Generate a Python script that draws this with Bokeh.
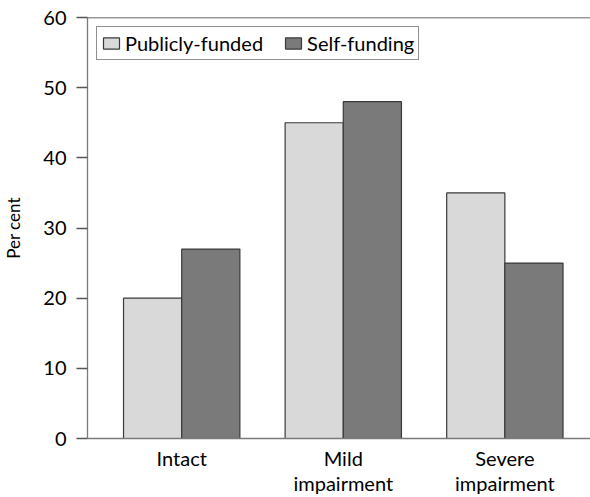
from bokeh.plotting import figure
from bokeh.models import Range1d, FixedTicker, Span, Legend, LegendItem, ColumnDataSource
from bokeh.embed import file_html
from bokeh.resources import INLINE

categories = ["Intact", "Mild\nimpairment", "Severe\nimpairment"]
publicly_funded = [20, 45, 35]
self_funding = [27, 48, 25]
y_ticks = [0, 10, 20, 30, 40, 50, 60]

FONT = "Lato"
idx = list(range(len(categories)))
bw = 0.36

p = figure(width=590, height=497, output_backend="svg", toolbar_location=None,
           x_range=Range1d(-0.583, 2.53), y_range=Range1d(0, 60),
           min_border_left=83, min_border_right=0, min_border_top=17, min_border_bottom=57)
p.outline_line_color = None
p.grid.grid_line_color = None
p.background_fill_color = "white"

src = ColumnDataSource(dict(
    xp=[i - bw / 2 for i in idx], xs=[i + bw / 2 for i in idx],
    pub=publicly_funded, slf=self_funding))

r1 = p.vbar(x="xp", top="pub", width=bw, source=src, fill_color="#d9d9d9",
            line_color="#3a3a3a", line_width=1.2)
r2 = p.vbar(x="xs", top="slf", width=bw, source=src, fill_color="#7a7a7b",
            line_color="#3a3a3a", line_width=1.2)

p.add_layout(Span(location=60, dimension="width", line_color="#333333", line_width=1.5))

# y axis
p.yaxis.ticker = FixedTicker(ticks=y_ticks)
p.yaxis.axis_label = "Per cent"
p.yaxis.axis_label_text_font = FONT
p.yaxis.axis_label_text_font_size = "17px"
p.yaxis.axis_label_text_font_style = "normal"
p.yaxis.axis_label_text_color = "black"
p.yaxis.axis_label_standoff = 16
p.yaxis.major_label_text_font = FONT
p.yaxis.major_label_text_font_size = "20px"
p.yaxis.major_label_text_color = "black"
p.yaxis.major_label_standoff = 10
p.yaxis.major_tick_out = 11
p.yaxis.major_tick_in = 0
p.yaxis.minor_tick_line_color = None
p.yaxis.axis_line_color = "#7a7a7a"
p.yaxis.major_tick_line_color = "#555555"
p.yaxis.axis_line_width = 1.3
p.yaxis.major_tick_line_width = 1.3

# x axis
p.xaxis.ticker = FixedTicker(ticks=idx)
p.xaxis.major_label_overrides = {i: c for i, c in zip(idx, categories)}
p.xaxis.major_label_text_font = FONT
p.xaxis.major_label_text_font_size = "20px"
p.xaxis.major_label_text_line_height = 1.05
p.xaxis.major_label_text_color = "black"
p.xaxis.major_label_standoff = 7
p.xaxis.major_tick_line_color = None
p.xaxis.major_tick_out = 0
p.xaxis.minor_tick_line_color = None
p.xaxis.axis_line_color = "#7a7a7a"
p.xaxis.axis_line_width = 1.3

legend = Legend(items=[LegendItem(label="Publicly-funded", renderers=[r1]),
                       LegendItem(label="Self-funding", renderers=[r2])],
                orientation="horizontal", location="top_left",
                margin=9, padding=4, spacing=20, label_standoff=4,
                glyph_width=20, glyph_height=14,
                label_text_font=FONT, label_text_font_size="20px",
                label_text_color="black",
                border_line_color="#222222", border_line_width=1.3,
                background_fill_alpha=1.0)
p.add_layout(legend)

open("out.html", "w").write(file_html(p, INLINE))
